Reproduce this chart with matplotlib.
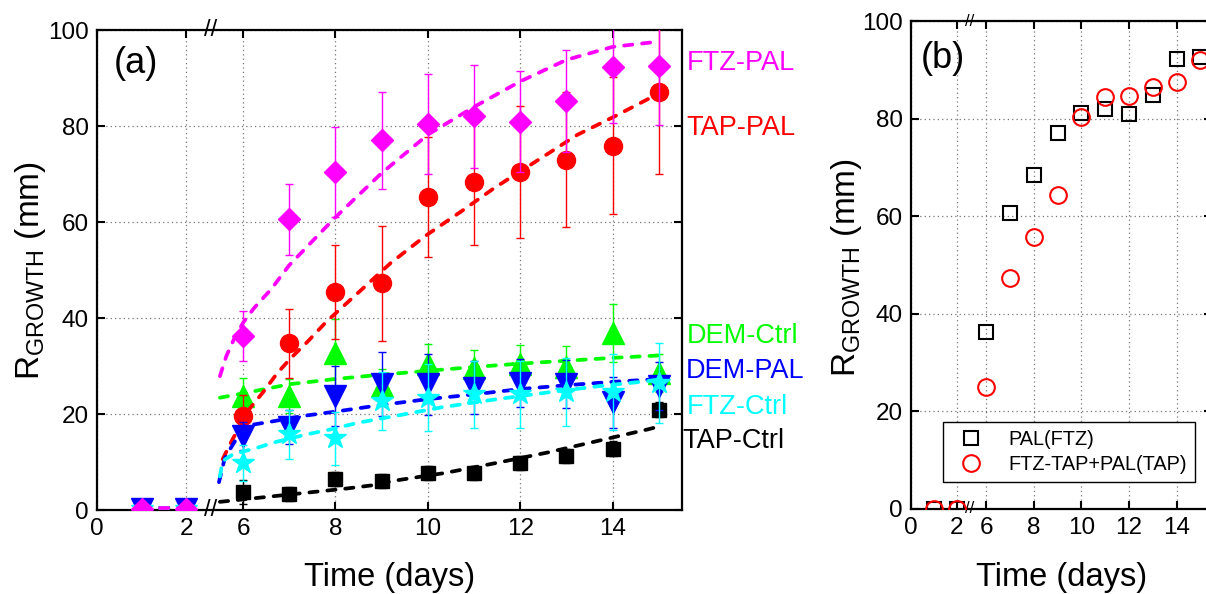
import numpy as np
import matplotlib
matplotlib.use('Agg')
import matplotlib.pyplot as plt
from matplotlib.transforms import blended_transform_factory

plt.rcParams['font.family'] = ['Liberation Sans', 'DejaVu Sans']
plt.rcParams['mathtext.fontset'] = 'custom'
plt.rcParams['mathtext.rm'] = 'Liberation Sans'
plt.rcParams['mathtext.it'] = 'Liberation Sans:italic'
plt.rcParams['mathtext.bf'] = 'Liberation Sans:bold'

# ---- panel (a) data: measured radius (mm) vs day ----
days = [1, 2, 6, 7, 8, 9, 10, 11, 12, 13, 14, 15]

ftz_pal = [0.3, 0.3, 36.2, 60.6, 70.4, 77.0, 80.5, 82.0, 80.9, 85.2, 92.2, 92.6]
ftz_pal_err = [0, 0, 5.2, 7.4, 9.4, 10.1, 10.4, 10.7, 10.5, 10.7, 11.6, 12.4]
tap_pal = [0.3, 0.3, 19.5, 34.7, 45.5, 47.2, 65.3, 68.3, 70.4, 73.0, 75.9, 87.0]
tap_pal_err = [0, 0, 4.4, 7.1, 9.8, 12.0, 12.5, 13.0, 13.7, 14.0, 14.3, 17.0]
dem_ctrl = [0.3, 0.3, 23.8, 23.8, 32.8, 25.8, 30.4, 29.5, 30.4, 29.7, 36.9, 28.6]
dem_ctrl_err = [0, 0, 3.8, 3.5, 7.0, 3.5, 4.2, 3.9, 4.0, 4.4, 6.1, 4.0]
dem_pal = [0.3, 0.3, 15.4, 17.3, 23.8, 26.2, 26.2, 25.5, 26.5, 26.3, 22.4, 25.8]
dem_pal_err = [0, 0, 3.0, 3.5, 6.2, 6.7, 6.4, 5.5, 5.0, 5.0, 5.4, 5.0]
ftz_ctrl = [0.3, 0.3, 9.8, 15.8, 14.9, 22.7, 23.4, 24.1, 24.1, 24.6, 24.6, 26.5]
ftz_ctrl_err = [0, 0, 3.7, 5.1, 5.5, 6.0, 7.0, 7.0, 7.0, 7.0, 8.0, 8.4]
tap_ctrl = [0.3, 0.3, 3.8, 3.3, 6.4, 6.1, 7.7, 7.7, 9.8, 11.2, 12.8, 20.9]
tap_ctrl_err = [0, 0, 2.5, 1.5, 1.5, 1.5, 1.5, 1.5, 1.5, 1.5, 1.5, 1.5]

# fitted curves
early_x = [1, 2]
early_y = [0.5, 0.5]
ftz_pal_fit_x = [5.5, 5.64, 5.8, 6.0, 6.24, 6.6, 7.0, 7.5, 8, 9, 10, 11, 12, 13, 14, 15]
ftz_pal_fit_y = [27.9, 32.1, 35.5, 39.0, 42.1, 45.9, 51.0, 56.0, 61.0, 70.2, 78.2, 84.0, 89.3, 93.8, 96.5, 97.6]
tap_pal_fit_x = [5.56, 5.74, 6.1, 6.43, 6.74, 7.04, 7.4, 7.8, 8.45, 9.2, 9.96, 10.72, 11.44, 12.56, 13.24, 14.04, 14.72, 15.0]
tap_pal_fit_y = [10.6, 14.1, 20.6, 24.5, 28.5, 31.7, 35.1, 39.2, 44.9, 51.5, 57.2, 62.2, 67.1, 74.0, 78.2, 82.0, 85.4, 86.8]
dem_ctrl_fit_x = [5.5, 6, 7, 8, 9, 10, 11, 12, 13, 14, 15]
dem_ctrl_fit_y = [23.4, 24.3, 26.2, 27.3, 28.2, 29.0, 29.8, 30.5, 31.1, 31.7, 32.2]
dem_pal_fit_x = [5.48, 5.6, 5.74, 6.03, 6.6, 7.3, 8, 9, 10, 11, 12, 13, 14, 15]
dem_pal_fit_y = [5.8, 10.6, 13.0, 17.5, 18.4, 19.6, 20.5, 21.9, 23.1, 24.1, 25.2, 26.0, 26.7, 27.3]
ftz_ctrl_fit_x = [5.5, 5.56, 5.78, 6.32, 6.68, 7.4, 7.9, 8.5, 9.3, 10.3, 11.5, 12.6, 13.7, 14.8, 15]
ftz_ctrl_fit_y = [7.0, 10.2, 11.6, 13.0, 14.1, 15.8, 16.8, 18.2, 19.6, 21.4, 23.1, 24.5, 25.8, 26.9, 27.2]
tap_ctrl_fit_x = [5.5, 6.39, 7.47, 8.26, 8.84, 9.27, 10.36, 11.48, 12.6, 13.68, 14.76, 15]
tap_ctrl_fit_y = [1.7, 2.6, 3.7, 4.5, 5.2, 6.1, 7.7, 9.8, 12.0, 14.4, 16.8, 17.4]

# ---- panel (b) data ----
days_b = [1, 2, 6, 7, 8, 9, 10, 11, 12, 13, 14, 15]
pal_ftz = [0, 0, 36.3, 60.6, 68.4, 77.0, 81.1, 81.9, 80.9, 84.8, 92.2, 92.6]
ftz_tap_pal_tap = [0, 0, 25.0, 47.3, 55.8, 64.3, 80.4, 84.5, 84.7, 86.4, 87.6, 92.0]

# broken x axis: 0..2.55 then 5.3..15.5
BRK_LO, BRK_HI, K = 2.55, 5.3, 0.965


def fwd(x):
    x = np.asarray(x, dtype=float)
    return np.where(x <= BRK_LO, K * x,
                    np.where(x >= BRK_HI, K * BRK_LO + x - BRK_HI, K * BRK_LO))


def inv(u):
    u = np.asarray(u, dtype=float)
    return np.where(u <= K * BRK_LO, u / K, u - K * BRK_LO + BRK_HI)


def setup(ax, brk_size):
    ax.set_xscale('function', functions=(fwd, inv))
    ax.set_xlim(0, 15.5)
    ax.set_ylim(0, 100)
    ax.set_xticks([0, 2, 6, 8, 10, 12, 14])
    ax.set_yticks(range(0, 101, 20))
    ax.minorticks_off()
    ax.tick_params(direction='in', top=True, right=True, length=6, width=1.5,
                   labelsize=17.5, pad=6)
    ax.grid(True, ls=(0, (1, 2.5)), color='#777777', lw=0.9)
    ax.set_axisbelow(True)
    for s in ax.spines.values():
        s.set_linewidth(1.6)
    trans = blended_transform_factory(ax.transData, ax.transAxes)
    for yy in (0, 1):
        ax.text(BRK_LO, yy, '//', transform=trans, ha='center', va='center',
                fontsize=brk_size, clip_on=False)


fig = plt.figure(figsize=(12.06, 5.94), dpi=100)
ax = fig.add_axes([0.0804, 0.1414, 0.4851, 0.808])
ax2 = fig.add_axes([0.7554, 0.1431, 0.2498, 0.8215])
setup(ax, 17)
setup(ax2, 12)

series = [
    (tap_ctrl, tap_ctrl_err, tap_ctrl_fit_x, tap_ctrl_fit_y, 's', 'black', 10.5),
    (dem_ctrl, dem_ctrl_err, dem_ctrl_fit_x, dem_ctrl_fit_y, '^', '#00ff00', 15.5),
    (tap_pal, tap_pal_err, tap_pal_fit_x, tap_pal_fit_y, 'o', '#ff0000', 13),
    (dem_pal, dem_pal_err, dem_pal_fit_x, dem_pal_fit_y, 'v', '#0000ff', 16),
    (ftz_ctrl, ftz_ctrl_err, ftz_ctrl_fit_x, ftz_ctrl_fit_y, '*', '#00ffff', 16.5),
    (ftz_pal, ftz_pal_err, ftz_pal_fit_x, ftz_pal_fit_y, 'D', '#ff00ff', 11),
]

z = 3
for y, err, fx, fy, m, c, ms in series:
    ax.errorbar(days, y, yerr=err, fmt=m, color=c, ms=ms, mec=c,
                capsize=3, elinewidth=1, capthick=1, ecolor=c, zorder=z)
    ax.plot(early_x, early_y, color=c, lw=2.7, ls=(0, (2.2, 2.6)),
            dash_capstyle='round', zorder=z + 0.5)
    ax.plot(fx, fy, color=c, lw=2.7, ls=(0, (2.2, 2.6)),
            dash_capstyle='round', zorder=z + 0.5)
    z += 1

# curve names on the right of panel (a)
trans = blended_transform_factory(ax.transAxes, ax.transData)
names = [('FTZ-PAL', 93.1, '#ff00ff', 1.008), ('TAP-PAL', 79.6, '#ff0000', 1.008),
         ('DEM-Ctrl', 36.2, '#00ff00', 1.008), ('DEM-PAL', 28.9, '#0000ff', 1.006),
         ('FTZ-Ctrl', 21.4, '#00ffff', 1.008), ('TAP-Ctrl', 14.3, 'black', 1.001)]
for txt, yy, c, xx in names:
    ax.text(xx, yy, txt, color=c, fontsize=19.5, ha='left', va='center',
            transform=trans, clip_on=False)

ax.text(0.067, 0.931, '(a)', transform=ax.transAxes, fontsize=26,
        ha='center', va='center')
ax2.text(0.106, 0.924, '(b)', transform=ax2.transAxes, fontsize=26,
         ha='center', va='center')

ax2.plot(days_b, pal_ftz, 's', mfc='none', mec='black', ms=9.5, mew=1.5,
         label='PAL(FTZ)', zorder=3)
ax2.plot(days_b, ftz_tap_pal_tap, 'o', mfc='none', mec='red', ms=12, mew=1.5,
         label='FTZ-TAP+PAL(TAP)', zorder=4)
leg = ax2.legend(loc='lower left', bbox_to_anchor=(0.106, 0.055), borderaxespad=0,
                 fontsize=14.3, fancybox=False, edgecolor='black', framealpha=1,
                 handletextpad=0.9, borderpad=0.4, labelspacing=0.3)
leg.get_frame().set_linewidth(1.0)

ylab = r'R$_{\mathrm{GROWTH}}$ (mm)'
fig.text(0.025, 0.545, ylab, rotation=90, fontsize=24, ha='center', va='center')
fig.text(0.702, 0.55, ylab, rotation=90, fontsize=24, ha='center', va='center')
fig.text(0.323, 0.027, 'Time (days)', fontsize=23.5, ha='center', va='center')
fig.text(0.880, 0.028, 'Time (days)', fontsize=23.5, ha='center', va='center')

fig.savefig('out.png', dpi=100)
